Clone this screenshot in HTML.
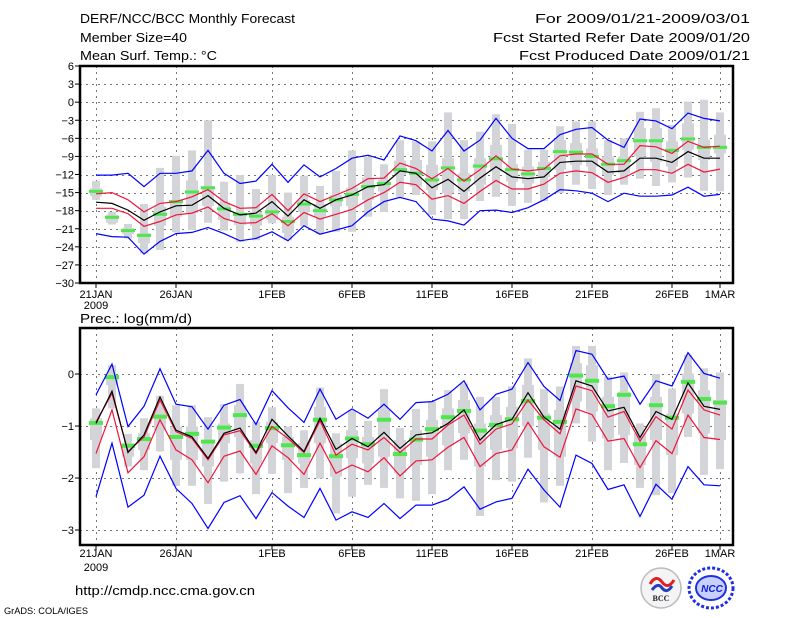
<!DOCTYPE html>
<html><head><meta charset="utf-8"><style>
html,body{margin:0;padding:0;background:#fff;}
svg{display:block;font-family:"Liberation Sans",sans-serif;}
</style></head><body>
<svg id="chart" width="800" height="618" viewBox="0 0 800 618" xmlns="http://www.w3.org/2000/svg">
<g font-size="13" fill="#000">
<text x="80" y="23" textLength="215" lengthAdjust="spacingAndGlyphs">DERF/NCC/BCC Monthly Forecast</text>
<text x="80" y="42" textLength="107" lengthAdjust="spacingAndGlyphs">Member Size=40</text>
<text x="80" y="60" textLength="137" lengthAdjust="spacingAndGlyphs">Mean Surf. Temp.: °C</text>
<text x="535" y="23" textLength="215" lengthAdjust="spacingAndGlyphs">For 2009/01/21-2009/03/01</text>
<text x="493" y="42" textLength="257" lengthAdjust="spacingAndGlyphs">Fcst Started Refer Date 2009/01/20</text>
<text x="519" y="60" textLength="231" lengthAdjust="spacingAndGlyphs">Fcst Produced Date 2009/01/21</text>
<text x="80" y="323" textLength="112" lengthAdjust="spacingAndGlyphs">Prec.: log(mm/d)</text>
<text x="75" y="595" textLength="180" lengthAdjust="spacingAndGlyphs">http://cmdp.ncc.cma.gov.cn</text>
<text x="4" y="614" font-size="9" textLength="84" lengthAdjust="spacingAndGlyphs">GrADS: COLA/IGES</text>
</g>
<g>
<g>
<circle cx="661" cy="588" r="20" fill="#f4f4f4" stroke="#bbb" stroke-width="1.5"/>
<path d="M650 584 q6 -10 12 -2 q6 8 12 -2" fill="none" stroke="#e02020" stroke-width="3"/>
<path d="M652 590 q6 -8 10 -2 q5 6 10 -2" fill="none" stroke="#2040c0" stroke-width="3"/>
<text x="661" y="601" font-size="8" font-weight="bold" text-anchor="middle" fill="#223" font-family="Liberation Serif,serif">BCC</text>
</g>
<g>
<ellipse cx="711" cy="588" rx="22" ry="20" fill="none" stroke="#2030e0" stroke-width="3" stroke-dasharray="3 2"/>
<ellipse cx="711" cy="588" rx="15" ry="12" fill="#c8d0ff" stroke="#2030e0" stroke-width="2"/>
<text x="712" y="592" font-size="10" font-weight="bold" font-style="italic" text-anchor="middle" fill="#1020d0">NCC</text>
</g>
</g>
</svg>
<script>
// ---------- Temperature panel data (deg C), day 0 = 21 Jan ----------
var dayTicks = [0, 5, 11, 16, 21, 26, 31, 36, 39];
var dayTickLabels = ["21JAN", "26JAN", "1FEB", "6FEB", "11FEB", "16FEB", "21FEB", "26FEB", "1MAR"];
var tempTicks = [6, 3, 0, -3, -6, -9, -12, -15, -18, -21, -24, -27, -30];
var precTicks = [0, -1, -2, -3];

var tMean = [-16.6,-16.8,-17.9,-19.6,-18.2,-17.2,-17.1,-15.5,-17.6,-18.7,-18.4,-16.5,-18.9,-16.2,-17.6,-16.2,-15.4,-14.0,-13.7,-11.4,
-11.8,-14.2,-12.8,-14.8,-12.6,-10.7,-12.4,-12.7,-12.4,-10.0,-9.8,-9.8,-11.6,-11.4,-9.3,-9.3,-10.0,-8.2,-9.3,-9.3];
var tSdUp = [-15.2,-15.0,-16.2,-18.2,-16.8,-16.5,-15.7,-14.5,-16.5,-17.6,-17.5,-15.3,-18.0,-15.2,-16.5,-15.4,-14.3,-12.7,-12.6,-10.1,
-11.0,-12.7,-11.0,-13.1,-11.2,-8.9,-11.1,-11.4,-11.1,-8.9,-8.6,-8.6,-10.3,-10.3,-7.2,-7.4,-8.5,-6.5,-7.5,-7.3];
var tSdLo = [-17.6,-17.6,-18.5,-20.6,-19.8,-18.7,-18.4,-17.4,-19.3,-20.1,-20.0,-18.5,-20.5,-18.3,-19.4,-18.6,-17.8,-16.2,-15.0,-13.3,
-13.7,-16.1,-15.5,-16.8,-14.8,-13.0,-14.4,-14.4,-13.6,-11.8,-11.4,-11.7,-13.3,-12.5,-11.2,-11.2,-11.8,-10.3,-11.6,-11.1];
var tMax = [-12.1,-12.1,-11.8,-14.0,-11.8,-11.8,-11.4,-8.0,-11.8,-13.5,-13.1,-10.3,-13.3,-10.4,-12.4,-11.0,-9.3,-8.8,-9.6,-5.6,
-6.4,-8.1,-4.7,-8.1,-6.3,-2.7,-6.0,-7.7,-7.7,-5.4,-4.5,-4.2,-6.3,-7.5,-2.8,-3.1,-4.4,-1.8,-2.7,-3.1];
var tMin = [-21.8,-22.3,-22.4,-25.2,-23.1,-21.8,-21.6,-20.8,-21.8,-23.0,-22.6,-21.5,-23.0,-20.5,-21.9,-21.2,-20.5,-18.2,-16.5,-15.8,
-16.5,-19.4,-19.7,-20.4,-18.0,-17.9,-18.3,-17.5,-16.2,-14.5,-14.7,-15.1,-16.5,-15.1,-15.6,-15.6,-15.4,-14.1,-15.6,-15.3];
var tObs = [-14.8,-19.1,-21.3,-22.1,-18.6,-16.5,-14.9,-14.2,-17.7,-18.6,-18.9,-18.2,-19.8,-16.9,-18.0,-16.2,-15.3,-14.0,-13.5,-11.2,
-11.8,-12.9,-10.9,-12.9,-10.6,-9.4,-11.2,-11.9,-11.0,-8.2,-8.3,-9.0,-10.3,-9.7,-6.4,-6.4,-8.0,-6.1,-7.5,-7.5];
var tWhiHi = [-13.1,-18.2,-20.2,-16.9,-10.9,-8.9,-8.0,-3.0,-13.2,-12.1,-14.4,-12.1,-15.0,-12.2,-13.9,-11.4,-8.0,-9.0,-10.3,-6.3,
-6.5,-6.5,-1.7,-6.3,-4.9,-2.0,-3.6,-7.9,-7.9,-4.0,-3.2,-3.2,-6.3,-6.0,-1.6,-1.0,-3.8,0.1,0.4,-1.7];
var tWhiLo = [-16.2,-20.3,-22.6,-25.1,-24.5,-21.6,-21.2,-20.0,-21.3,-23.2,-22.9,-20.1,-22.9,-20.6,-21.9,-21.5,-21.5,-19.0,-18.2,-15.7,
-15.4,-18.7,-19.4,-19.4,-16.4,-15.7,-17.2,-16.7,-16.4,-15.1,-13.7,-14.4,-15.4,-13.7,-12.7,-13.9,-13.3,-12.5,-14.7,-14.8];
var tBoxHi = [-14.3,-18.7,-20.9,-21.7,-17.3,-16.2,-13.0,-14.0,-16.7,-18.4,-18.2,-17.3,-19.0,-16.2,-16.9,-15.4,-14.2,-12.5,-12.9,-9.7,
-9.6,-10.4,-9.3,-11.8,-9.3,-7.1,-10.3,-10.7,-9.9,-6.3,-6.8,-7.7,-9.0,-9.0,-4.3,-4.3,-6.5,-3.5,-6.2,-5.4];
var tBoxLo = [-15.6,-20.0,-21.9,-23.4,-20.5,-19.0,-18.4,-17.2,-19.5,-20.4,-20.5,-19.5,-21.7,-18.2,-19.0,-17.3,-17.2,-16.2,-14.8,-12.1,
-14.0,-14.6,-15.1,-14.8,-13.7,-11.5,-13.2,-13.5,-12.4,-11.2,-10.4,-10.7,-12.1,-11.8,-9.0,-9.9,-10.7,-7.9,-9.6,-8.5];

// ---------- Precipitation panel data (log mm/d) ----------
var pMean = [-0.95,-0.33,-1.51,-1.17,-0.44,-1.08,-1.21,-1.62,-1.14,-1.04,-1.51,-0.87,-1.19,-1.49,-0.85,-1.45,-1.24,-1.40,-1.12,-1.43,
-1.17,-1.13,-0.95,-0.69,-1.27,-0.97,-0.87,-0.36,-0.83,-1.06,-0.13,-0.23,-0.71,-0.64,-1.22,-0.72,-0.87,-0.17,-0.62,-0.68];
var pSdUp = [-0.92,-0.37,-1.49,-1.21,-0.50,-1.11,-1.24,-1.65,-1.17,-1.09,-1.53,-1.01,-1.24,-1.51,-0.90,-1.56,-1.35,-1.46,-1.22,-1.51,
-1.25,-1.25,-0.98,-0.79,-1.35,-1.06,-0.96,-0.50,-0.88,-1.15,-0.23,-0.32,-0.83,-0.72,-1.29,-0.82,-1.06,-0.31,-0.69,-0.79];
var pSdLo = [-1.53,-0.69,-1.90,-1.59,-0.88,-1.46,-1.65,-2.09,-1.58,-1.48,-1.93,-1.38,-1.61,-1.93,-1.33,-1.91,-1.75,-1.88,-1.61,-1.96,
-1.67,-1.65,-1.41,-1.22,-1.78,-1.53,-1.46,-0.93,-1.40,-1.60,-0.67,-0.78,-1.29,-1.24,-1.80,-1.28,-1.53,-0.79,-1.22,-1.26];
var pMax = [-0.40,0.19,-1.01,-0.62,0.10,-0.58,-0.63,-1.06,-0.60,-0.49,-0.97,-0.32,-0.65,-0.93,-0.29,-0.87,-0.67,-0.85,-0.58,-0.87,
-0.55,-0.53,-0.39,-0.13,-0.69,-0.39,-0.29,0.22,-0.24,-0.51,0.45,0.38,-0.10,-0.04,-0.58,-0.13,-0.23,0.41,0.01,-0.08];
var pMin = [-2.36,-1.33,-2.56,-2.33,-1.58,-2.20,-2.49,-2.97,-2.47,-2.34,-2.78,-2.28,-2.54,-2.76,-2.20,-2.81,-2.65,-2.76,-2.49,-2.78,
-2.52,-2.52,-2.41,-2.17,-2.60,-2.46,-2.39,-1.83,-2.23,-2.56,-1.56,-1.72,-2.22,-2.13,-2.74,-2.12,-2.41,-1.78,-2.13,-2.15];
var pObs = [-0.94,-0.06,-1.38,-1.25,-0.82,-1.21,-1.15,-1.30,-1.03,-0.79,-1.38,-1.04,-1.37,-1.56,-0.88,-1.58,-1.24,-1.35,-0.88,-1.54,
-1.26,-1.06,-0.83,-0.71,-1.09,-0.98,-0.87,-0.52,-0.84,-0.92,-0.03,-0.13,-0.62,-0.40,-1.35,-0.60,-0.84,-0.15,-0.48,-0.55];
var pWhiHi = [-0.66,0.17,-1.15,-0.85,-0.42,-0.60,-0.60,-0.83,-0.58,-0.19,-0.92,-0.64,-1.01,-1.08,-0.26,-1.14,-0.69,-0.90,-0.29,-1.04,
-0.67,-0.53,-0.31,-0.18,-0.44,-0.44,-0.24,0.30,-0.29,-0.24,0.54,0.54,-0.05,0.03,-0.95,0.00,-0.28,0.37,0.11,0.03];
var pWhiLo = [-1.81,-0.66,-1.78,-1.85,-1.49,-2.15,-2.15,-2.50,-2.07,-1.91,-2.31,-1.92,-2.29,-2.19,-2.01,-2.68,-2.36,-2.13,-2.19,-2.39,
-2.44,-2.31,-1.85,-1.65,-2.73,-2.04,-2.07,-1.61,-2.47,-2.15,-0.95,-1.30,-1.85,-1.71,-2.19,-2.33,-2.29,-1.21,-1.94,-1.83];
var pBoxHi = [-0.85,-0.02,-1.33,-1.14,-0.66,-1.01,-1.01,-1.27,-0.95,-0.60,-1.27,-0.92,-1.21,-1.33,-0.63,-1.33,-1.08,-1.21,-0.69,-1.27,
-1.08,-0.88,-0.66,-0.50,-0.95,-0.79,-0.63,-0.21,-0.76,-0.69,0.21,0.17,-0.44,-0.34,-1.14,-0.44,-0.76,0.01,-0.31,-0.50];
var pBoxLo = [-1.27,-0.21,-1.59,-1.46,-1.08,-1.65,-1.65,-1.78,-1.33,-1.21,-1.72,-1.33,-1.65,-1.72,-1.33,-1.97,-1.62,-1.72,-1.59,-1.91,
-1.75,-1.59,-1.37,-1.14,-1.78,-1.46,-1.43,-1.01,-1.46,-1.59,-0.53,-0.72,-1.24,-1.17,-1.75,-1.27,-1.56,-0.76,-1.14,-1.27];

var NS = "http://www.w3.org/2000/svg";
var svg = document.getElementById('chart');
function mk(tag, attrs, parent) {
  var e = document.createElementNS(NS, tag);
  for (var k in attrs) e.setAttribute(k, attrs[k]);
  parent.appendChild(e);
  return e;
}
function xScale(d) { return 96 + 16 * d; }

function drawPanel(name, top, bottom, vMax, vMin, ticks, tickFmt, s, labY1, labY2) {
  var L = 80, R = 733;
  function y(v) { return top + (vMax - v) / (vMax - vMin) * (bottom - top); }
  var g = mk('g', {}, svg);
  
  
  var grid = mk('g', {stroke: '#777', 'stroke-width': 1, 'stroke-dasharray': '2 4'}, g);
  
  
  ticks.forEach(function (t) {
    var yy = Math.round(y(t)) + 0.5;
    mk('line', {x1: L, x2: R, y1: yy, y2: yy}, grid);
  });
  dayTicks.forEach(function (d) {
    var xx = xScale(d) + 0.5;
    mk('line', {x1: xx, x2: xx, y1: top, y2: bottom}, grid);
  });
  var bars = mk('g', {fill: '#d3d4d8'}, g);
  
  
  for (var d = 0; d < s.mean.length; d++) {
    var x = xScale(d);
    var r1 = mk('rect', {x: x - 4, width: 8, y: y(s.whiHi[d]), height: Math.max(1, y(s.whiLo[d]) - y(s.whiHi[d]))}, bars);
    
    
    var r2 = mk('rect', {x: x - 6, width: 12, y: y(s.boxHi[d]), height: Math.max(1, y(s.boxLo[d]) - y(s.boxHi[d]))}, bars);
    
    
  }
  var obsG = mk('g', {fill: '#4ee84e'}, g);
  
  
  var oh = name === 'temp' ? 3 : 4;
  for (var d2 = 0; d2 < s.obs.length; d2++) {
    var o = mk('rect', {x: xScale(d2) - 7, width: 14, y: y(s.obs[d2]) - oh / 2, height: oh}, obsG);
    
    
  }
  function line(arr, color, nm) {
    var pts = arr.map(function (v, i) { return xScale(i) + ',' + y(v).toFixed(1); }).join(' ');
    var p = mk('polyline', {points: pts, fill: 'none', stroke: color, 'stroke-width': 1.2}, g);
    
    
  }
  line(s.max, '#0000ff', name + '-ensemble-max');
  line(s.min, '#0000ff', name + '-ensemble-min');
  line(s.sdUp, '#f0143c', name + '-mean-plus-sd');
  line(s.sdLo, '#f0143c', name + '-mean-minus-sd');
  line(s.mean, '#000000', name + '-ensemble-mean');
  var fr = mk('rect', {x: L, y: top, width: R - L, height: bottom - top, fill: 'none', stroke: '#000', 'stroke-width': 2.5}, g);
  
  
  var ya = mk('g', {'font-size': 11, 'text-anchor': 'end'}, g);
  
  
  ticks.forEach(function (t) {
    var yy = y(t);
    mk('line', {x1: L - 5, x2: L, y1: yy, y2: yy, stroke: '#000'}, ya);
    var tx = mk('text', {x: L - 6, y: yy + 4}, ya);
    tx.textContent = tickFmt(t);
    
    
  });
  var xa = mk('g', {'font-size': 11, 'text-anchor': 'middle'}, g);
  
  
  dayTicks.forEach(function (d, i) {
    var xx = xScale(d);
    mk('line', {x1: xx, x2: xx, y1: bottom, y2: bottom + 5, stroke: '#000'}, xa);
    var tx = mk('text', {x: xx, y: labY1}, xa);
    tx.textContent = dayTickLabels[i];
    
    
  });
  var yr = mk('text', {x: xScale(0), y: labY2}, xa);
  yr.textContent = '2009';
  
  
}

drawPanel('temp', 66, 283, 6, -30, tempTicks, function (t) { return t < 0 ? '\u2212' + (-t) : String(t); },
  {mean: tMean, sdUp: tSdUp, sdLo: tSdLo, max: tMax, min: tMin, obs: tObs, whiHi: tWhiHi, whiLo: tWhiLo, boxHi: tBoxHi, boxLo: tBoxLo}, 298, 309);
drawPanel('prec', 328, 545, 0.885, -3.288, precTicks, function (t) { return t < 0 ? '\u2212' + (-t) : String(t); },
  {mean: pMean, sdUp: pSdUp, sdLo: pSdLo, max: pMax, min: pMin, obs: pObs, whiHi: pWhiHi, whiLo: pWhiLo, boxHi: pBoxHi, boxLo: pBoxLo}, 557, 571);
</script>
</body></html>
